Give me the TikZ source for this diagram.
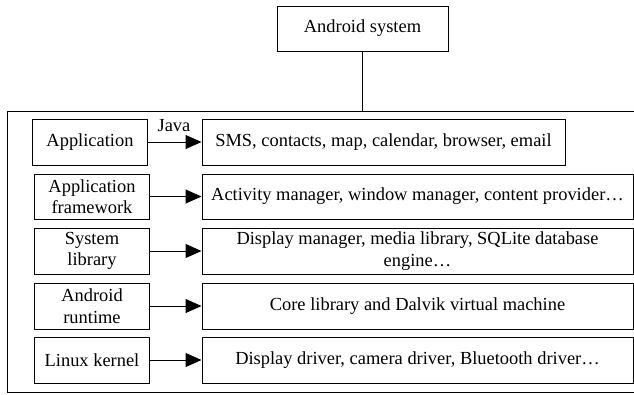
\documentclass[tikz,border=0pt]{standalone}
\usepackage{fontspec}
\setmainfont{Liberation Serif}
\usetikzlibrary{arrows.meta}
\begin{document}
\begin{tikzpicture}[x=1bp,y=-1bp,
  txt/.style={font=\fontsize{18.5}{21.7}\selectfont},
  box/.style={draw, line width=1bp, inner sep=0pt, align=center, txt},
  conn/.style={line width=1bp, -{Triangle[length=16bp,width=14bp]}}]
\useasboundingbox (0,0) rectangle (634,394);
\clip (0,0) rectangle (634,394);
% top box and outer frame
\node[box, minimum width=171bp, minimum height=45bp] (android) at (362.5,28.5) {Android system};
\node[box, anchor=north west, minimum width=640bp, minimum height=281bp] (outer) at (7,111) {};
\draw[line width=1bp] (android.south) -- (android.south |- outer.north);
% left column
\node[box, minimum width=114bp, minimum height=46bp] (app) at (90,142) {Application};
\node[box, minimum width=114bp, minimum height=45bp] (fw) at (92,196.5) {Application\\framework};
\node[box, minimum width=114bp, minimum height=46bp] (lib) at (92,251) {System\\library};
\node[box, minimum width=114bp, minimum height=46bp] (rt) at (92,306) {Android\\runtime};
\node[box, minimum width=114bp, minimum height=46bp] (linux) at (92,360) {Linux kernel};
% right column
\node[box, minimum width=363bp, minimum height=46bp] (sms) at (383.5,142) {SMS, contacts, map, calendar, browser, email};
\node[box, minimum width=431bp, minimum height=45bp] (act) at (417.5,196.5) {Activity manager, window manager, content provider…};
\node[box, minimum width=431bp, minimum height=46bp] (disp) at (417.5,251) {Display manager, media library, SQLite database\\engine…};
\node[box, minimum width=431bp, minimum height=46bp] (core) at (417.5,306) {Core library and Dalvik virtual machine};
\node[box, minimum width=431bp, minimum height=46bp] (drv) at (417.5,360) {Display driver, camera driver, Bluetooth driver…};
% connectors
\draw[conn] (app) -- (sms);
\node[txt, inner sep=0pt] (java) at (174,126) {Java};
\draw[conn] (fw) -- (act);
\draw[conn] (lib) -- (disp);
\draw[conn] (rt) -- (core);
\draw[conn] (linux) -- (drv);
\end{tikzpicture}
\end{document}
